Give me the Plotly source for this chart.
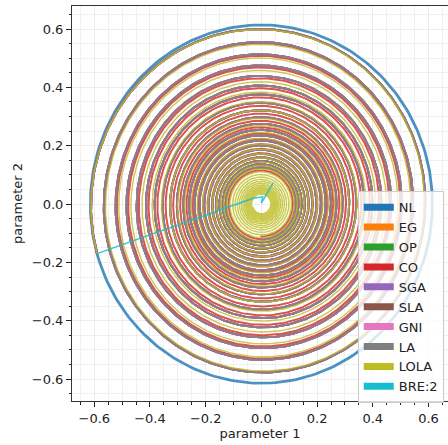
import numpy as np
import plotly.graph_objects as go

# ---- data ----
methods = ["NL", "EG", "OP", "CO", "SGA", "SLA", "GNI", "LA", "LOLA", "BRE:2"]
colors = ["#1f77b4", "#ff7f0e", "#2ca02c", "#d62728", "#9467bd",
          "#8c564b", "#e377c2", "#7f7f7f", "#bcbd22", "#17becf"]
start_point = [-0.59, -0.17]
# radius ratio per revolution (clockwise spirals) and number of revolutions
ratio_per_rev = [1.0, 0.925, 0.925, 0.921, 0.925, 0.925, 0.925, 0.925, 0.915]
revolutions = [1.0, 20.8, 20.8, 20.8, 20.8, 20.8, 20.8, 20.8, 33.0]
line_widths = [2.8, 2.0, 2.0, 2.0, 2.0, 2.0, 2.0, 2.0, 1.4, 1.4]
# BRE:2 iterates
bre_x = [-0.59, -0.03, 0.005, 0.0, 0.042]
bre_y = [-0.17, 0.02, 0.025, 0.003, 0.072]

tick_vals = [-0.6, -0.4, -0.2, 0.0, 0.2, 0.4, 0.6]
tick_text = ["\u22120.6", "\u22120.4", "\u22120.2", "0.0", "0.2", "0.4", "0.6"]

fig = go.Figure()

r0 = float(np.hypot(*start_point))
a0 = float(np.arctan2(start_point[1], start_point[0]))

for i, name in enumerate(methods[:-1]):
    revs = revolutions[i]
    n = int(revs * 260) + 2
    t = np.linspace(0.0, revs, n)
    r = r0 * ratio_per_rev[i] ** t
    ang = a0 - 2 * np.pi * t
    fig.add_trace(go.Scatter(
        x=r * np.cos(ang), y=r * np.sin(ang), mode="lines",
        line=dict(color=colors[i], width=line_widths[i]),
        opacity=0.8, showlegend=False, hoverinfo="skip"))

fig.add_trace(go.Scatter(
    x=bre_x, y=bre_y, mode="lines",
    line=dict(color=colors[-1], width=line_widths[-1]),
    opacity=0.85, showlegend=False, hoverinfo="skip"))

# legend entries
for name, c in zip(methods, colors):
    fig.add_trace(go.Scatter(x=[None], y=[None], mode="lines", name=name,
                             line=dict(color=c, width=7)))

axis_common = dict(
    automargin=False,
    tickvals=tick_vals, ticktext=tick_text, ticks="outside", ticklen=5,
    tickwidth=1, tickcolor="#222", showline=True, linecolor="#333",
    linewidth=1, showgrid=True, gridcolor="#ececec", gridwidth=1,
    zeroline=False,
    tickfont=dict(family="DejaVu Sans", size=13, color="#222"),
    minor=dict(tickmode="linear", tick0=0, dtick=0.05, ticks="outside",
               ticklen=2.5, tickcolor="#222", showgrid=True,
               gridcolor="#f0f0f0", gridwidth=1),
)

fig.update_layout(
    width=448, height=445,
    margin=dict(l=72, r=0, t=6, b=44),
    paper_bgcolor="white", plot_bgcolor="white",
    font=dict(family="DejaVu Sans", size=13, color="#222"),
    xaxis=dict(range=[-0.68, 0.67], mirror=True,
               title=dict(text="parameter 1", standoff=4,
                          font=dict(family="DejaVu Sans", size=13)),
               **axis_common),
    yaxis=dict(range=[-0.675, 0.679], mirror=False,
               title=dict(text="parameter 2", standoff=6,
                          font=dict(family="DejaVu Sans", size=13)),
               **axis_common),
    legend=dict(x=0.76, y=0.531, xanchor="left", yanchor="top",
                bgcolor="rgba(255,255,255,0.8)", bordercolor="#cccccc",
                borderwidth=1, font=dict(family="DejaVu Sans", size=13),
                tracegroupgap=0, itemwidth=30),
    showlegend=True,
)

fig.write_html(
    "out.html",
    config={"displayModeBar": False},
    post_script="document.body.style.margin='0px';"
                "document.body.style.overflow='hidden';",
)
